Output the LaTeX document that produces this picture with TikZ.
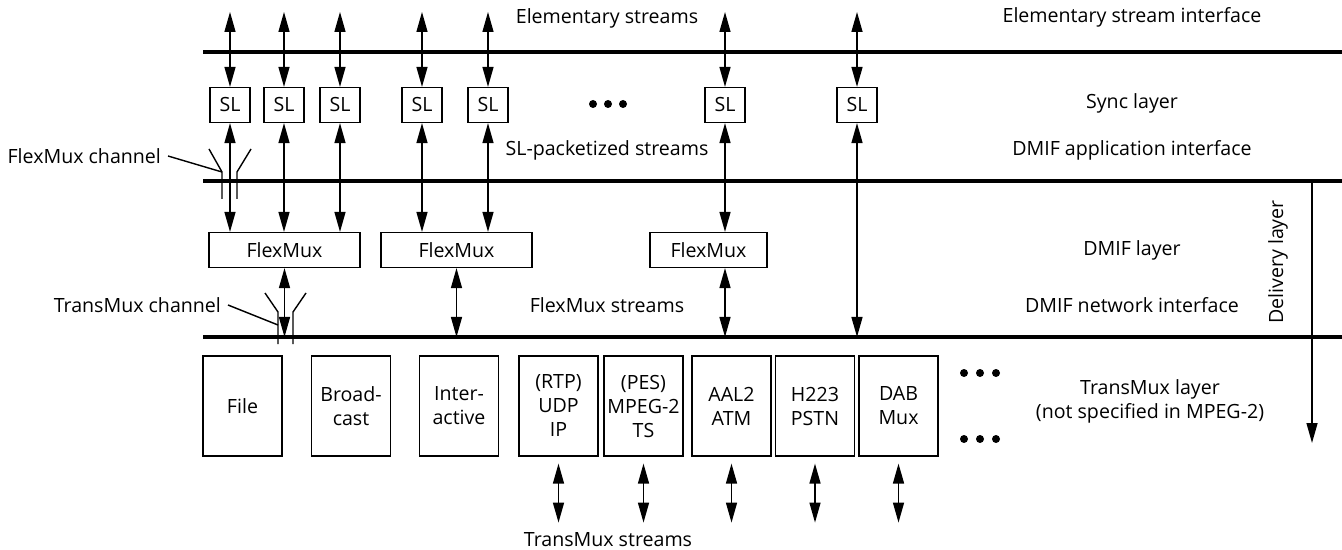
\documentclass[tikz,border=0pt]{standalone}
\usepackage{fontspec}
\setmainfont{Open Sans}
\usetikzlibrary{arrows.meta}

\tikzset{
  capa/.style={line width=2.2pt},
  flecha/.style={line width=0.7pt},
  caja/.style={draw, line width=0.6pt, inner sep=0pt, align=center},
  slbox/.style={caja, minimum width=20pt, minimum height=17.5pt},
  fmbox/.style={caja, minimum height=17.5pt},
  tmbox/.style={caja, minimum width=39.5pt, minimum height=50pt},
}

\begin{document}
\begin{tikzpicture}[x=0.5pt, y=-0.5pt, >={Triangle[length=10pt,width=5.5pt]},
    font=\fontsize{9.8}{12}\selectfont]
\useasboundingbox (0,0) rectangle (1342,550);

% Líneas de interfaz
\foreach \y/\nombre in {52/ei, 181/ai, 337/ni} {
    \coordinate (\nombre-w) at (203,\y);
    \coordinate (\nombre-e) at (1342,\y);
    \draw[capa] (\nombre-w) -- (\nombre-e);
}

% Cajas SL y flujos elementales
\foreach \i/\x in {1/230, 2/284, 3/340, 4/422, 5/488, 6/725, 7/857} {
    \node[slbox] (sl\i) at (\x,105) {SL};
    \coordinate (es\i) at (\x,12);
    \draw[flecha,<->] (es\i) -- (sl\i.north);
}
\foreach \x in {593,608,623} \fill (\x,104) circle (2pt);

% Cajas FlexMux
\node[fmbox, minimum width=75.5pt] (fm1) at (284.5,250) {FlexMux};
\node[fmbox, minimum width=75.5pt] (fm2) at (456.5,250) {FlexMux};
\node[fmbox, minimum width=58.5pt] (fm3) at (708.5,250) {FlexMux};

% SL hacia FlexMux
\foreach \i/\f in {1/1, 2/1, 3/1, 4/2, 5/2, 6/3} {
    \draw[flecha,<->] (sl\i.south) -- (sl\i.south |- fm\f.north);
}
\draw[flecha,<->] (sl7.south) -- (sl7.south |- ni-w);

% FlexMux hacia TransMux
\draw[flecha,<->] (fm1.south) -- (fm1.south |- ni-w);
\draw[flecha,<->] (fm2.south) -- (fm2.south |- ni-w);
\draw[flecha,<->] (sl6.south |- fm3.south) -- (sl6.south |- ni-w);

% Canales
\node[anchor=east] (fmch) at (168,156) {FlexMux channel};
\coordinate (fmc) at (222,172);
\draw[flecha] (fmch.east) -- (fmc);
\draw[flecha] (209,149) -- (fmc) -- (222,199);
\draw[flecha] (251,149) -- (237,172) -- (237,199);

\node[anchor=east] (tmch) at (228,305) {TransMux channel};
\coordinate (tmc) at (278,325);
\draw[flecha] (tmch.east) -- (tmc);
\draw[flecha] (265,293) -- (278,312) -- (278,344);
\draw[flecha] (306,293) -- (293,312) -- (293,344);

% Cajas TransMux
\foreach \x/\n/\t in {242.5/file/File, 351/bcast/{Broad-\\cast}, 459/inter/{Inter-\\active},
    558.5/ip/{(RTP)\\UDP\\IP}, 643.5/ts/{(PES)\\MPEG-2\\TS}, 731.5/atm/{AAL2\\ATM},
    815/pstn/{H223\\PSTN}, 898.5/dab/{DAB\\Mux}} {
    \node[tmbox] (\n) at (\x,406) {\t};
}
\foreach \n in {ip,ts,atm,pstn,dab} {
    \draw[flecha,<->] ([yshift=-3.5pt]\n.south) -- ([yshift=-33pt]\n.south);
}
\foreach \x in {964,980,996} {
    \fill (\x,373) circle (2pt);
    \fill (\x,439) circle (2pt);
}

% Capa de entrega
\coordinate (dl1) at (1312,181);
\coordinate (dl2) at (1312,443);
\draw[flecha,->] (dl1) -- (dl2);
\node[rotate=90] (delivery) at (1278,262) {Delivery layer};

% Etiquetas
\node (es) at (607,18) {Elementary streams};
\node (slps) at (607,150) {SL-packetized streams};
\node (fms) at (607,305) {FlexMux streams};
\node (tms) at (608,540) {TransMux streams};
\foreach \y/\n/\t in {17/esi/Elementary stream interface, 103/sync/Sync layer,
    150/dai/DMIF application interface, 250/dmif/DMIF layer, 305/dni/DMIF network interface} {
    \node (\n) at (1132,\y) {\t};
}
\node[align=center] (tml) at (1150,401) {TransMux layer\\(not specified in MPEG-2)};
\end{tikzpicture}
\end{document}
